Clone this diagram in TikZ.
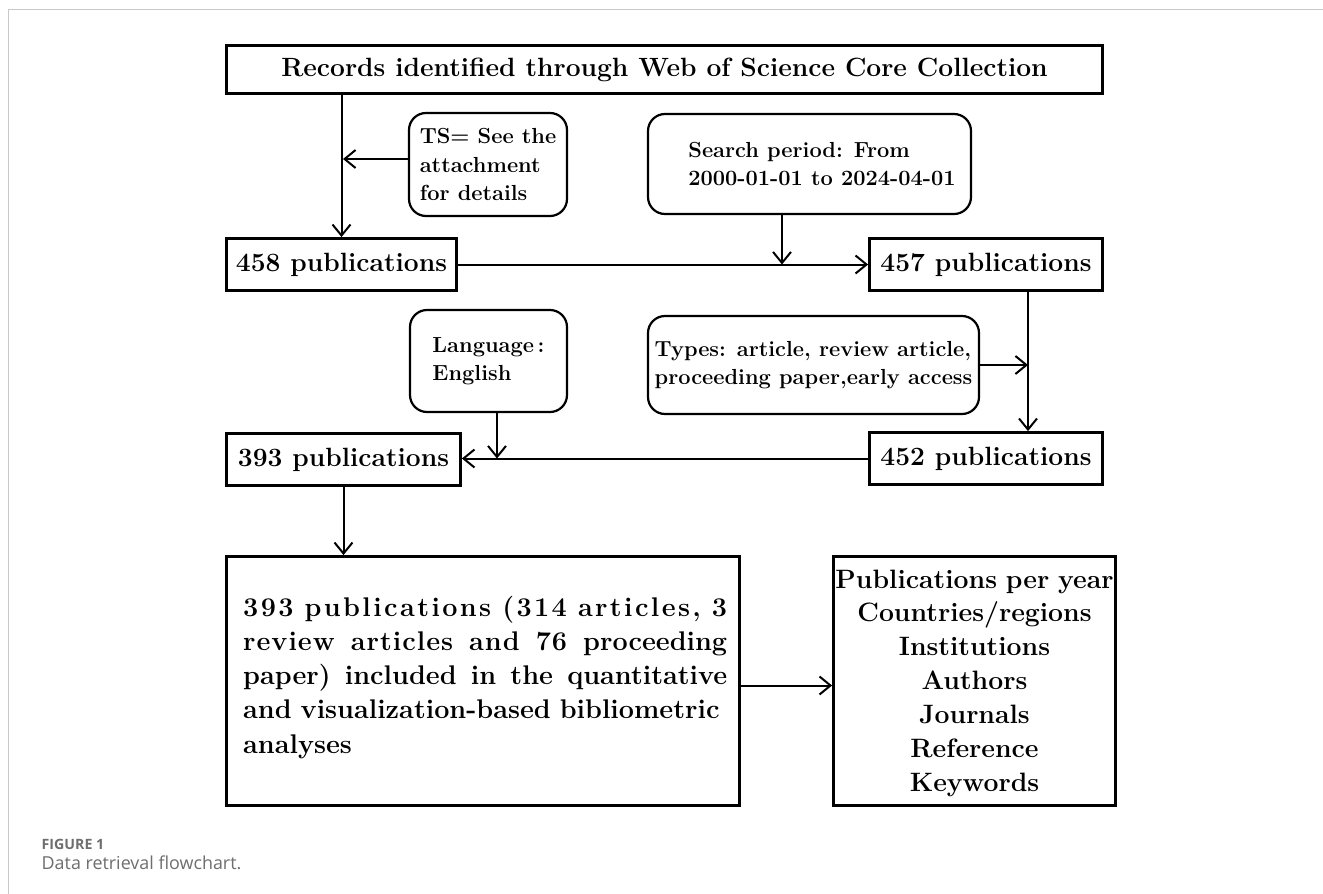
\documentclass[tikz,border=0pt]{standalone}
\usepackage{fontspec}
\newfontfamily\capfont{Open Sans}
\usetikzlibrary{arrows.meta}
\definecolor{framegray}{HTML}{C8C8C8}
\definecolor{capgray}{HTML}{6E6E6E}
\newcommand{\jline}[1]{\leavevmode\hbox to 484pt{#1}}
\makeatletter
\newcommand{\spreadword}[2]{\@tfor\sw@tok:=#2\do{\sw@tok\kern#1}}
\makeatother
\begin{document}
\begin{tikzpicture}[x=1pt,y=-1pt,
  box/.style={draw, line width=2.8pt, rectangle, inner sep=0pt, font=\fontsize{26.4}{30}\selectfont\bfseries},
  rbox/.style={draw, line width=2.2pt, rounded corners=17pt, inner sep=0pt, align=left, font=\fontsize{21.8}{28.5}\selectfont\bfseries},
  rtxt/.style={inner sep=0pt, align=left, font=\fontsize{21.8}{28.5}\selectfont\bfseries},
  conn/.style={line width=2pt},
  arr/.style={conn, -{Straight Barb[length=11pt,width=18pt]}},
]
\useasboundingbox (0,0) rectangle (1323,894);
\fill[white] (0,0) rectangle (1323,894);
\draw[framegray, line width=1.3pt] (8.5,894) -- (8.5,9.5) -- (1323,9.5);

% rectangular boxes
\node[box, minimum width=876pt, minimum height=48pt] (top) at (664.5,69.5) {Records identified through Web of Science Core Collection};
\node[box, minimum width=230pt, minimum height=52pt] (n458) at (341.5,264.5) {458 publications};
\node[box, minimum width=233pt, minimum height=52pt] (n457) at (986,264.5) {457 publications};
\node[box, minimum width=233pt, minimum height=52pt] (n452) at (986,458.5) {452 publications};
\node[box, minimum width=234pt, minimum height=52pt] (n393) at (343.5,459.5) {393 publications};
\node[box, minimum width=513pt, minimum height=249pt] (big) at (483,681) {};
\node[box, minimum width=282pt, minimum height=249pt] (right) at (974.5,681) {};

% rounded boxes
\node[rbox, minimum width=158pt, minimum height=103pt] (ts) at (488,164.5) {TS= See the\\attachment\\for details};
\node[rbox, minimum width=323pt, minimum height=100pt] (search) at (809.5,164) {};
\node[rtxt] (searchtxt) at (822,164) {Search period: From\\2000-01-01 to 2024-04-01};
\node[rbox, minimum width=157pt, minimum height=102pt] (lang) at (488.5,361) {Language\,:\\English};
\node[rbox, minimum width=331pt, minimum height=98pt] (types) at (813.5,365) {Types: article, review article,\\proceeding paper,early access};

% texts of the large boxes
\node[anchor=base west, text width=484pt, inner sep=0pt, align=left,
      font=\fontsize{27}{34.25}\selectfont\bfseries] (bigtxt) at (243,616)
 {\jline{\spreadword{2.4pt}{393}\hfill\spreadword{2.4pt}{publications}\hfill\spreadword{2.4pt}{(314}\hfill\spreadword{2.4pt}{articles,}\hfill 3}\\
  \jline{\spreadword{1pt}{review}\hfill\spreadword{1pt}{articles}\hfill\spreadword{1pt}{and}\hfill\spreadword{1pt}{76}\hfill proceeding}\\
  \jline{paper) \hfill included \hfill in \hfill the \hfill quantitative}\\
  and visualization-based bibliometric\\
  analyses};
\node[anchor=base, text width=282pt, inner sep=0pt, align=center,
      font=\fontsize{26.6}{33.9}\selectfont\bfseries] (righttxt) at (974.5,588)
 {Publications per year\\Countries/regions\\Institutions\\Authors\\Journals\\Reference\\Keywords};

% helper coordinates
\coordinate (tsA) at (343,159);
\coordinate (spA) at (782,264.5);
\coordinate (vx) at (1028,0);
\coordinate (lgA) at (497,458.5);

% connectors
\draw[arr] (top.south -| n458) -- (n458.north);
\draw[arr] (ts.west |- tsA) -- (tsA);
\draw[arr] (n458.east) -- (n457.west);
\draw[arr] (search.south -| spA) -- (spA);
\draw[arr] (n457.south -| vx) -- (n452.north -| vx);
\draw[arr] (types.east) -- (types.east -| vx);
\draw[arr] (n452.west) -- (n452.west -| n393.east);
\draw[arr] (lang.south -| lgA) -- (lgA);
\draw[arr] (n393.south) -- (n393.south |- big.north);
\draw[arr] ([yshift=-4.5pt]big.east) -- ([yshift=-4.5pt]right.west);

% caption
\node[anchor=base west, inner sep=0pt, text=capgray, font=\capfont\bfseries\fontsize{14.2}{16}\selectfont] (figlabel) at (41.5,849.3) {FIGURE 1};
\node[anchor=base west, inner sep=0pt, text=capgray, font=\capfont\fontsize{17.9}{20}\selectfont] (figcap) at (41.5,869.3) {Data retrieval flowchart.};
\end{tikzpicture}
\end{document}
